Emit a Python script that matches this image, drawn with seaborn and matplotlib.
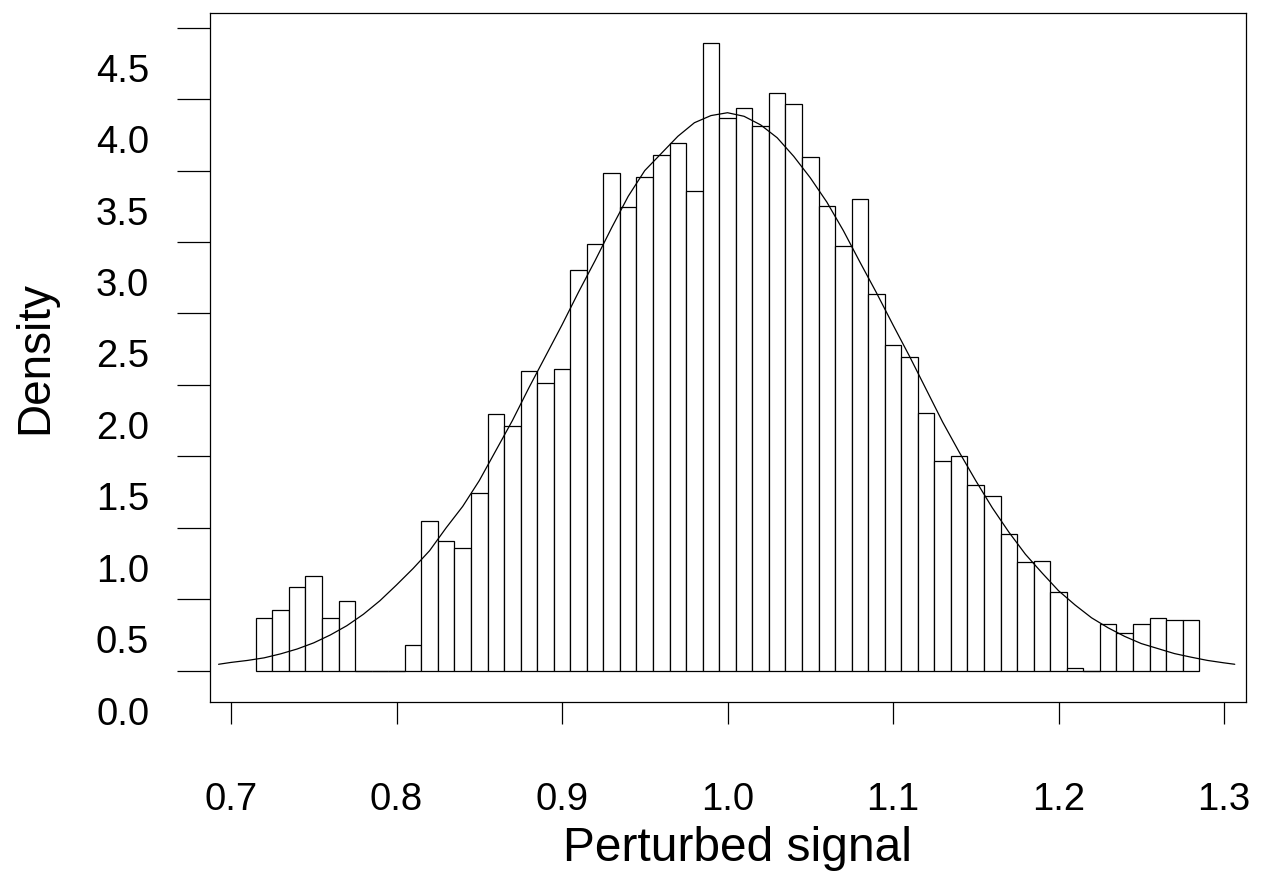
import numpy as np
import pandas as pd
import seaborn as sns
import matplotlib
matplotlib.use("Agg")
import matplotlib.pyplot as plt
from matplotlib.transforms import ScaledTranslation

# ---- data ----
bin_start = 0.715
bin_width = 0.01
densities = [0.367, 0.423, 0.586, 0.661, 0.367, 0.490, 0.0, 0.0, 0.0, 0.178,
             1.048, 0.910, 0.861, 1.246, 1.794, 1.710, 2.100, 2.011, 2.113, 2.802,
             2.983, 3.483, 3.242, 3.453, 3.612, 3.693, 3.355, 4.391, 3.866, 3.935,
             3.809, 4.043, 3.963, 3.592, 3.252, 2.972, 3.301, 2.634, 2.279, 2.193,
             1.801, 1.470, 1.500, 1.302, 1.220, 0.959, 0.758, 0.770, 0.549, 0.017,
             0.0, 0.329, 0.262, 0.329, 0.367, 0.353, 0.353]

curve_x = [0.6925, 0.70, 0.71, 0.72, 0.73, 0.74, 0.75, 0.76, 0.77, 0.78, 0.79,
           0.80, 0.81, 0.82, 0.83, 0.84, 0.85, 0.86, 0.87, 0.88, 0.89,
           0.90, 0.91, 0.92, 0.93, 0.94, 0.95, 0.96, 0.97, 0.98, 0.99,
           1.00, 1.01, 1.02, 1.03, 1.04, 1.05, 1.06, 1.07, 1.08, 1.09,
           1.10, 1.11, 1.12, 1.13, 1.14, 1.15, 1.16, 1.17, 1.18, 1.19,
           1.20, 1.21, 1.22, 1.23, 1.24, 1.25, 1.26, 1.27, 1.28, 1.29,
           1.30, 1.3065]
curve_y = [0.045, 0.058, 0.072, 0.090, 0.118, 0.152, 0.195, 0.250, 0.315, 0.395, 0.490,
           0.600, 0.715, 0.840, 1.000, 1.150, 1.330, 1.540, 1.750, 1.980, 2.200,
           2.420, 2.650, 2.870, 3.100, 3.320, 3.500, 3.620, 3.740, 3.835, 3.885,
           3.905, 3.880, 3.820, 3.730, 3.600, 3.450, 3.280, 3.080, 2.860, 2.645,
           2.420, 2.200, 1.970, 1.740, 1.530, 1.330, 1.140, 0.970, 0.815, 0.685,
           0.560, 0.460, 0.370, 0.300, 0.240, 0.190, 0.155, 0.120, 0.095, 0.072,
           0.055, 0.045]

x_ticks = [0.7, 0.8, 0.9, 1.0, 1.1, 1.2, 1.3]
x_ticklabels = ["0.7", "0.8", "0.9", "1.0", "1.1", "1.2", "1.3"]
y_ticks = [0.0, 0.5, 1.0, 1.5, 2.0, 2.5, 3.0, 3.5, 4.0, 4.5]
y_ticklabels = ["0.0", "0.5", "1.0", "1.5", "2.0", "2.5", "3.0", "3.5", "4.0", "4.5"]
x_label = "Perturbed signal"
y_label = "Density"

# ---- derived tables ----
n_bins = len(densities)
edges = [round(bin_start + i * bin_width, 4) for i in range(n_bins + 1)]
centers = [(edges[i] + edges[i + 1]) / 2 for i in range(n_bins)]
hist_df = pd.DataFrame({"x": centers, "w": densities})
curve_df = pd.DataFrame({"x": curve_x, "y": curve_y})

sns.set_style("white")
plt.rcParams["font.family"] = ["Liberation Sans", "DejaVu Sans"]
plt.rcParams["text.color"] = "black"
plt.rcParams["axes.labelcolor"] = "black"
plt.rcParams["xtick.color"] = "black"
plt.rcParams["ytick.color"] = "black"

fig = plt.figure(figsize=(12.63, 8.92), dpi=100)
ax = fig.add_axes([210 / 1263, 1 - 702 / 892, (1246 - 210) / 1263, (702 - 12.7) / 892])

sns.histplot(data=hist_df, x="x", weights="w", bins=edges, stat="count",
             color="white", edgecolor="black", linewidth=0.9, alpha=1.0, ax=ax)
# empty bins are drawn as flat outlines on the baseline
for i, d in enumerate(densities):
    if d == 0:
        ax.hlines(0, edges[i], edges[i + 1], color="black", linewidth=0.9)
sns.lineplot(data=curve_df, x="x", y="y", color="black", linewidth=0.9, ax=ax,
             sort=False, estimator=None)

ax.set_xlim(0.68731, 1.31329)
ax.set_ylim(-0.219, 4.605)

ax.set_xticks(x_ticks)
ax.set_xticklabels(x_ticklabels)
ax.set_yticks(y_ticks)
ax.set_yticklabels(y_ticklabels)

ax.tick_params(axis="x", direction="out", length=15.8, width=0.9, pad=42,
               labelsize=27.5, color="black", labelcolor="black", bottom=True)
ax.tick_params(axis="y", direction="out", length=23.8, width=0.9, pad=20,
               labelsize=27.5, color="black", labelcolor="black", left=True)

for sp in ax.spines.values():
    sp.set_visible(True)
    sp.set_color("black")
    sp.set_linewidth(0.9)

ax.set_xlabel(x_label, fontsize=34.5, labelpad=5, color="black")
ax.xaxis.set_label_coords(0.5087, -0.18)
ax.set_ylabel(y_label, fontsize=33, labelpad=28, color="black")

# shift y tick labels down (as in reference)
off = ScaledTranslation(0, -0.40, fig.dpi_scale_trans)
for lab in ax.get_yticklabels():
    lab.set_transform(lab.get_transform() + off)

fig.savefig("out.png", dpi=100)
